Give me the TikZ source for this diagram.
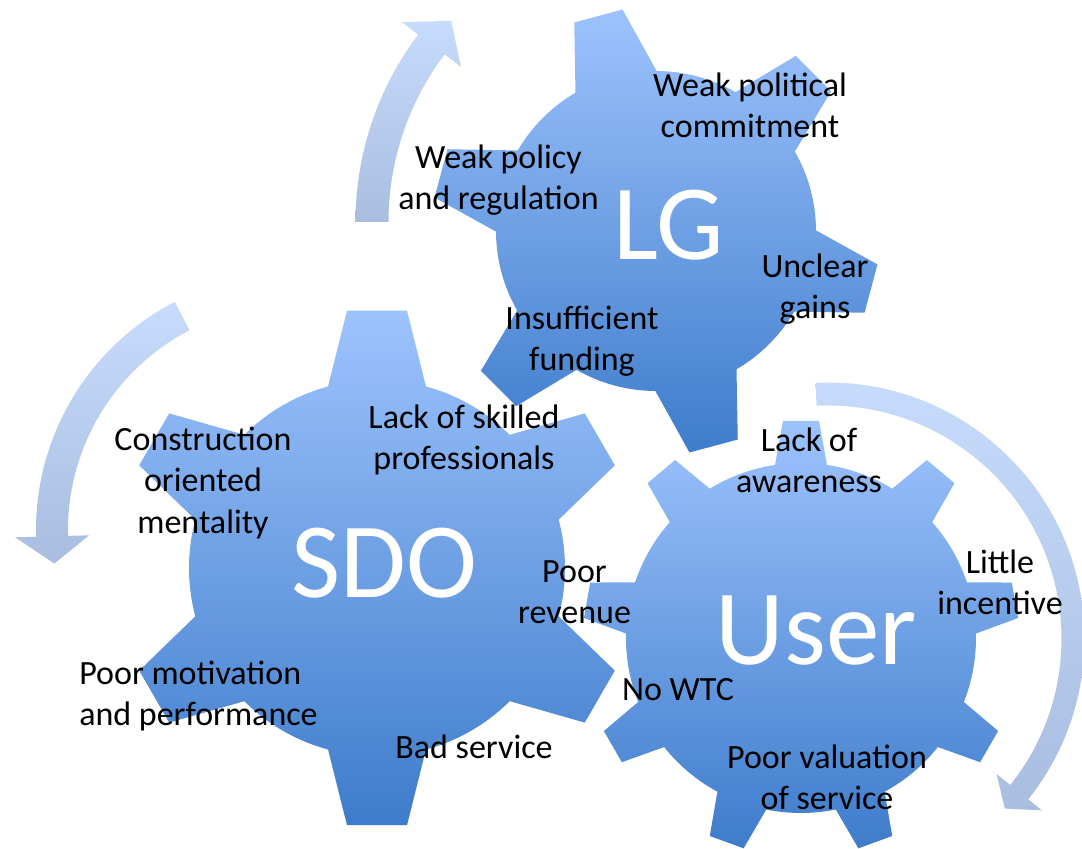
\documentclass[tikz,border=0pt]{standalone}
\usepackage{fontspec}
\setmainfont{Carlito}
\usetikzlibrary{calc}
\definecolor{gearTop}{RGB}{157,195,253}
\definecolor{gearBot}{RGB}{62,124,203}
\definecolor{arrTop}{RGB}{199,219,252}
\definecolor{arrBot}{RGB}{169,189,224}

% #1 cx, #2 cy, #3 body radius, #4 tip radius, #5 teeth, #6 first angle, #7 base half width, #8 tip half width
\newcommand\gearshape[8]{%
  \pgfmathsetmacro\gB{asin(#7/#3)}%
  \pgfmathsetmacro\gT{asin(#8/#4)}%
  \pgfmathsetmacro\gS{360/#5}%
  \pgfmathtruncatemacro\gN{#5-1}%
  \shade[gearfill, shift={(#1,#2)}]
    ({#6-\gB}:#3)
    \foreach \k in {0,...,\gN}{
      -- ({#6+\k*\gS-\gB}:#3) -- ({#6+\k*\gS-\gT}:#4) -- ({#6+\k*\gS+\gT}:#4) -- ({#6+\k*\gS+\gB}:#3)
      arc[start angle={#6+\k*\gS+\gB}, end angle={#6+(\k+1)*\gS-\gB}, radius=#3]
    } -- cycle;}

% #1 cx, #2 cy, #3 mid radius, #4 half width, #5 barb half width, #6 start angle, #7 head base angle, #8 tip angle
\newcommand\circarrow[8]{%
  \shade[arrowfill, shift={(#1,#2)}]
    ({#6}:{#3+#4}) arc[start angle={#6}, end angle={#7}, radius={#3+#4}]
    -- ({#7}:{#3+#5}) -- ({#8}:{#3}) -- ({#7}:{#3-#5}) -- ({#7}:{#3-#4})
    arc[start angle={#7}, end angle={#6}, radius={#3-#4}] -- cycle;}

\tikzset{
  gearfill/.style={top color=gearTop, bottom color=gearBot},
  arrowfill/.style={top color=arrTop, bottom color=arrBot},
  lab/.style={inner sep=0pt, align=center, text=black,
    font=\fontsize{25.5}{30.8}\selectfont,
    execute at begin node=\strut, execute at end node=\strut},
  big/.style={inner sep=0pt, text=white, anchor=base,
    font=\fontsize{80.25}{96}\selectfont}
}

\begin{document}
\begin{tikzpicture}[x=0.75pt,y=0.75pt]
\useasboundingbox (0,0) rectangle (1082,849);
\fill[white] (0,0) rectangle (1082,849);

% circular arrows
\circarrow{667}{627}{295}{16.5}{37}{180}{143}{137}
\circarrow{293}{319}{241}{16}{37}{117.4}{181.5}{188}
\circarrow{828}{210}{245}{11.5}{29}{92.8}{-38.7}{-43.8}

% gears
\gearshape{377}{281}{188}{259}{6}{90}{49}{30}
\gearshape{656}{618}{160}{224}{6}{105}{42}{25}
\gearshape{801}{211}{175}{218}{9}{90}{26}{18}

% big labels
\node[big] (sdo) at (384,251) {SDO};
\node[big] (lg) at (669,589) {LG};
\node[big] (user) at (816.5,184) {User};

% small labels
\node[lab] (wpc) at (750,738) {Weak political\\commitment};
\node[lab] (wpr) at (498.5,666) {Weak policy\\and regulation};
\node[lab] (ug) at (815,557) {Unclear\\gains};
\node[lab] (if) at (582,504.5) {Insufficient\\funding};
\node[lab] (lsp) at (464,406) {Lack of skilled\\professionals};
\node[lab] (com) at (203,362.6) {Construction\\oriented\\mentality};
\node[lab] (pr) at (574.5,251) {Poor\\revenue};
\node[lab, align=left, anchor=west] (pmp) at (79,149.5) {Poor motivation\\and performance};
\node[lab] (bs) at (474,99) {Bad service};
\node[lab] (la) at (809,383) {Lack of\\awareness};
\node[lab] (li) at (1000,261) {Little\\incentive};
\node[lab] (nw) at (678,157) {No WTC};
\node[lab] (pvs) at (827,66) {Poor valuation\\of service};
\end{tikzpicture}
\end{document}
